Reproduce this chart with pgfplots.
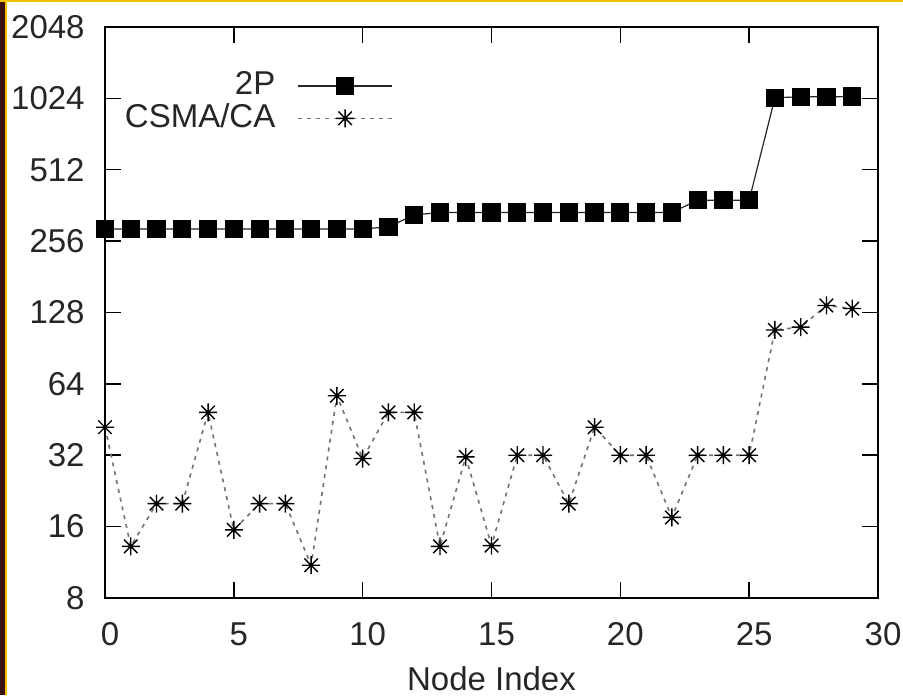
\documentclass[border=0pt]{standalone}
\usepackage{pgfplots}
\pgfplotsset{compat=1.18}
\usepackage{fontspec}
\setmainfont{Liberation Sans}
\definecolor{slidebrown}{HTML}{3A1212}
\definecolor{slideyellow}{HTML}{F2C200}
\pgfdeclareplotmark{gpstar}{%
  \pgfpathmoveto{\pgfqpoint{-\pgfplotmarksize}{0pt}}%
  \pgfpathlineto{\pgfqpoint{\pgfplotmarksize}{0pt}}%
  \pgfpathmoveto{\pgfqpoint{0pt}{-\pgfplotmarksize}}%
  \pgfpathlineto{\pgfqpoint{0pt}{\pgfplotmarksize}}%
  \pgfpathmoveto{\pgfqpoint{-0.75\pgfplotmarksize}{-0.75\pgfplotmarksize}}%
  \pgfpathlineto{\pgfqpoint{0.75\pgfplotmarksize}{0.75\pgfplotmarksize}}%
  \pgfpathmoveto{\pgfqpoint{-0.75\pgfplotmarksize}{0.75\pgfplotmarksize}}%
  \pgfpathlineto{\pgfqpoint{0.75\pgfplotmarksize}{-0.75\pgfplotmarksize}}%
  \pgfusepathqstroke}
\begin{document}
\fontsize{16.5}{19}\selectfont
\begin{tikzpicture}
\fill[white] (0,0) rectangle (451.5pt,347.5pt);
\fill[slidebrown] (0,0) rectangle (2.5pt,347.5pt);
\fill[slideyellow] (2.5pt,0) rectangle (3.5pt,347.5pt);
\fill[slideyellow] (0,346.7pt) rectangle (451.5pt,347.5pt);
\useasboundingbox (0,0) rectangle (451.5pt,347.5pt);
\begin{axis}[
  at={(52.5pt,48.5pt)}, anchor=south west,
  scale only axis, width=386.5pt, height=285.5pt,
  xmin=0, xmax=30, ymin=8, ymax=2048,
  ymode=log, log basis y=2,
  xtick={0,5,...,30},
  ytick={8,16,32,64,128,256,512,1024,2048},
  yticklabels={8,16,32,64,128,256,512,1024,2048},
  /pgf/number format/assume math mode=true,
  minor tick num=0, minor ytick={},
  tick align=inside, major tick length=8pt,
  tick style={line width=0.75pt, black},
  axis line style={line width=0.75pt},
  font=\fontsize{16.5}{19}\selectfont,
  yticklabel style={anchor=east, inner sep=0pt, xshift=-10pt, text=black!85},
  xticklabel style={anchor=north, inner sep=0pt, yshift=-12pt, xshift=2.5pt, text=black!85},
  xlabel={Node Index},
  x label style={at={(axis description cs:0.5,0)}, anchor=north, yshift=-34pt, inner sep=0pt, text=black!85},
  legend plot pos=right,
  legend cell align=right,
  legend style={draw=none, fill=none, at={(axis description cs:0.373,0.929)}, anchor=north east,
    inner sep=0pt, row sep=-2pt, column sep=9pt, font=\fontsize{16.5}{19}\selectfont, text=black!85},
  legend image code/.code={\draw[mark repeat=2,mark phase=2] plot coordinates {(0pt,0pt) (23.5pt,0pt) (47pt,0pt)};},
]
\addplot[black!85, line width=0.6pt, mark=square*, mark size=4.25pt, mark options={solid, fill=black, draw=black}]
coordinates {
(0,288) (1,288) (2,288) (3,288) (4,288) (5,288) (6,288) (7,288) (8,288) (9,288) (10,288)
(11,294) (12,330) (13,338) (14,338) (15,338) (16,338) (17,338) (18,338) (19,338) (20,338)
(21,338) (22,338) (23,381) (24,381) (25,381) (26,1030) (27,1040) (28,1040) (29,1042)
};
\addlegendentry{2P}
\addplot[black!55, line width=0.8pt, dash pattern=on 2pt off 2.5pt, mark=gpstar, mark size=4.5pt, mark options={solid, black, line width=0.7pt}]
coordinates {
(0,42) (1,13.2) (2,20) (3,20) (4,48.5) (5,15.5) (6,20) (7,20) (8,11) (9,57)
(10,31) (11,48.5) (12,48.5) (13,13.2) (14,31.5) (15,13.3) (16,32) (17,32) (18,20) (19,42)
(20,32) (21,32) (22,17.5) (23,32) (24,32) (25,32) (26,108) (27,111) (28,137) (29,133)
};
\addlegendentry{CSMA/CA}
\end{axis}
\end{tikzpicture}
\end{document}
